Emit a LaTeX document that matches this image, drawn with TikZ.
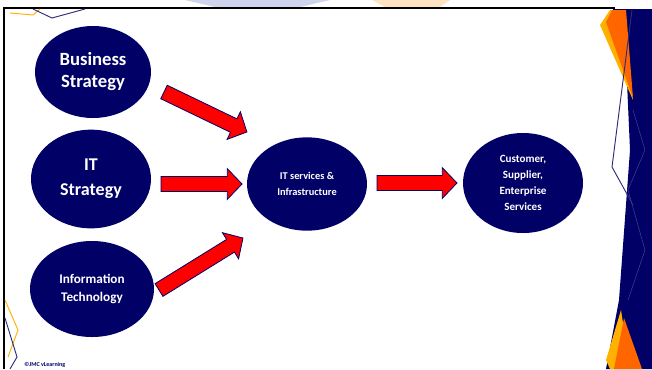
\documentclass[tikz,border=0pt]{standalone}
\usepackage{fontspec}
\setmainfont{Carlito}
\usetikzlibrary{shapes.geometric,calc}
\definecolor{navy}{RGB}{0,0,102}
\definecolor{arrowred}{RGB}{255,0,0}
\definecolor{decoorange}{RGB}{255,102,0}
\definecolor{decoyellow}{RGB}{255,176,0}
\definecolor{linenavy}{RGB}{45,45,120}
\definecolor{wmblue}{RGB}{205,212,235}
\definecolor{wmorange}{RGB}{252,228,195}
\tikzset{
  bubble/.style={ellipse, fill=navy, draw=none, text=white, align=center, inner sep=0pt},
  barrowstyle/.style={fill=arrowred, draw=navy, line width=0.6pt, line join=miter}
}
\newcommand\blockarrow[2]{%
  \path[barrowstyle] let \p1=($(#2)-(#1)$), \n1={atan2(\y1,\x1)}, \n2={veclen(\x1,\y1)}, \n3={\n2-11} in
    [shift={(#1)}, rotate=\n1]
    (0pt,-5.6pt) -- ({\n3*1pt},-5.6pt) -- ({\n3*1pt},-11.5pt) -- ({\n2*1pt},0pt)
    -- ({\n3*1pt},11.5pt) -- ({\n3*1pt},5.6pt) -- (0pt,5.6pt) -- cycle;}
\begin{document}
\begin{tikzpicture}[x=0.75pt,y=-0.75pt]
\useasboundingbox (0,0) rectangle (652,369);
\fill[white] (0,0) rectangle (652,369);
% faint watermark above the frame
\fill[wmblue] (185,0) -- (330,0) -- (300,7) -- (215,7) -- cycle;
\fill[wmorange] (372,0) -- (450,0) -- (440,7) -- (385,7) -- cycle;
% frame lines
\draw[black, line width=1.6pt] (3,8) -- (615,8);
\draw[black, line width=1.6pt] (4,8) -- (4,369);
% right decoration
\fill[navy] (613,9) -- (652,9) -- (652,369) -- (606,369) -- (619,300) -- (630,150) -- (626,60) -- cycle;
\fill[decoyellow] (600,25) -- (610,10) -- (620,10) -- (633,100) -- cycle;
\fill[decoorange] (606,22) -- (612,10) -- (626,10) -- (633,98) -- cycle;
\fill[decoyellow] (621,310) -- (606,360) -- (610,369) -- (630,369) -- cycle;
\fill[decoorange] (624,318) -- (614,369) -- (642,369) -- cycle;
\draw[linenavy, line width=0.7pt] (632,10) -- (612,167) -- (633,205);
\draw[white!25!navy, line width=0.4pt] (633,110) -- (645,150) -- (628,190) -- (645,250) -- (628,300);
% top-left decoration
\draw[decoyellow, line width=0.7pt] (10,13) -- (33,15) -- (40,9);
\draw[linenavy, line width=0.7pt] (33,9) -- (52,18) -- (85,9);
% bottom-left decoration
\draw[decoyellow, line width=0.7pt] (5,300) -- (18,330) -- (8,357);
\draw[linenavy, line width=0.7pt] (5,318) -- (17,357) -- (10,369);
\node[font=\bfseries\fontsize{4.5}{5}\selectfont, text=navy, anchor=west, inner sep=0pt] (copy) at (24,365) {©JMC vLearning};
% bubbles
\node[bubble, minimum width=87pt, minimum height=69pt, font=\bfseries\fontsize{14}{16.5}\selectfont] (bs) at (93,72) {Business\\Strategy};
\node[bubble, minimum width=90pt, minimum height=74pt, font=\bfseries\fontsize{13.5}{18.75}\selectfont] (its) at (91,179) {IT\\Strategy};
\node[bubble, minimum width=93pt, minimum height=72pt, font=\bfseries\fontsize{9.9}{14}\selectfont] (it) at (92,289) {Information\\Technology};
\node[bubble, minimum width=90pt, minimum height=70pt, font=\bfseries\fontsize{7.8}{12}\selectfont] (svc) at (307,184) {IT services \&\\Infrastructure};
\node[bubble, minimum width=90pt, minimum height=75pt, font=\bfseries\fontsize{8.3}{12.2}\selectfont] (cust) at (523,183) {Customer,\\Supplier,\\Enterprise\\Services};
% arrow end points
\coordinate (a1s) at (164,92);
\coordinate (a1e) at (247,132);
\coordinate (a2s) at (161,184);
\coordinate (a2e) at (242,184);
\coordinate (a3s) at (159,290);
\coordinate (a3e) at (243,238);
\coordinate (a4s) at (377,183);
\coordinate (a4e) at (457,183);
\blockarrow{a1s}{a1e}
\blockarrow{a2s}{a2e}
\blockarrow{a3s}{a3e}
\blockarrow{a4s}{a4e}
\end{tikzpicture}
\end{document}
